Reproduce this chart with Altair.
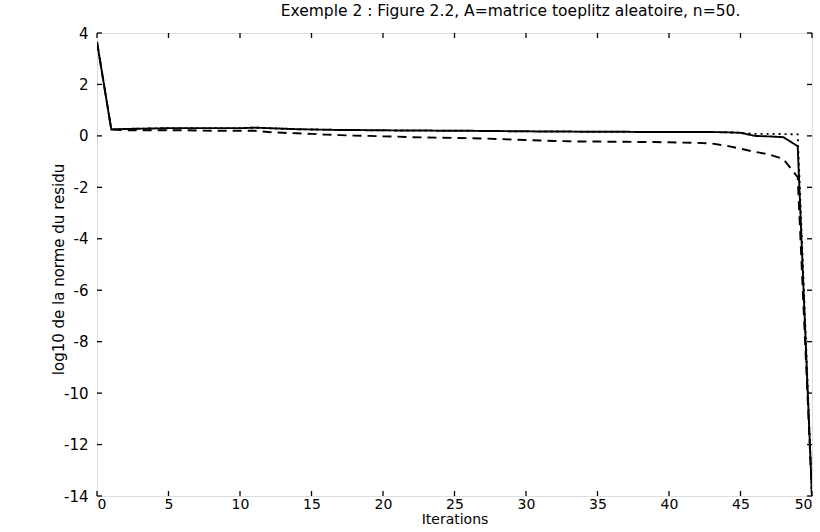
import altair as alt
import pandas as pd

iterations = list(range(51))

solid = [3.65, 0.25, 0.27, 0.28, 0.29, 0.30, 0.30, 0.30, 0.30, 0.30,
         0.30, 0.32, 0.30, 0.28, 0.26, 0.25, 0.24, 0.23, 0.23, 0.22,
         0.22, 0.21, 0.21, 0.21, 0.20, 0.20, 0.20, 0.19, 0.19, 0.18,
         0.18, 0.17, 0.17, 0.17, 0.16, 0.16, 0.16, 0.16, 0.15, 0.15,
         0.15, 0.15, 0.15, 0.15, 0.14, 0.12, 0.00, -0.02, -0.05, -0.40,
         -14.0]

dashed = [3.65, 0.25, 0.22, 0.22, 0.22, 0.22, 0.22, 0.21, 0.20, 0.20,
          0.20, 0.20, 0.15, 0.12, 0.10, 0.08, 0.05, 0.03, 0.01, 0.00,
          -0.02, -0.03, -0.05, -0.06, -0.07, -0.08, -0.09, -0.10, -0.12, -0.14,
          -0.16, -0.18, -0.20, -0.21, -0.22, -0.22, -0.23, -0.23, -0.24, -0.24,
          -0.25, -0.26, -0.27, -0.30, -0.38, -0.50, -0.62, -0.72, -0.90, -1.60,
          -14.0]

dotted = solid[:46] + [0.08, 0.08, 0.07, 0.06, -14.0]

x_ticks = list(range(0, 51, 5))
y_ticks = list(range(-14, 5, 2))

title_text = "Exemple 2 : Figure 2.2, A=matrice toeplitz aleatoire, n=50."
x_title = "Iterations"
y_title = "log10 de la norme du residu"

rows = []
for name, vals in (("solid", solid), ("dashed", dashed), ("dotted", dotted)):
    for i, v in zip(iterations, vals):
        rows.append({"it": i, "val": v, "series": name})
df = pd.DataFrame(rows)

W, H = 715, 463
FONT = "DejaVu Sans"

xscale = alt.Scale(domain=[0, 50], nice=False, zero=False)
yscale = alt.Scale(domain=[-14, 4], nice=False, zero=False)

lines = alt.Chart(df).mark_line(color="black", strokeWidth=1.9, clip=True).encode(
    x=alt.X("it:Q", scale=xscale, axis=alt.Axis(
        values=x_ticks, title=x_title, grid=False, ticks=False, domain=False,
        labelFontSize=14, labelColor="black", labelFont=FONT, labelPadding=1,
        titleFont=FONT, titleFontSize=14, titleFontWeight="normal",
        titleColor="black", titlePadding=1)),
    y=alt.Y("val:Q", scale=yscale, axis=alt.Axis(
        values=y_ticks, title=y_title, grid=False, ticks=False, domain=False,
        labelExpr="toString(datum.value)",
        labelFontSize=15, labelColor="black", labelFont=FONT, labelPadding=9,
        titleFont=FONT, titleFontSize=15, titleFontWeight="normal",
        titleColor="black", titleX=-31, titleY=236)),
    strokeDash=alt.StrokeDash("series:N", scale=alt.Scale(
        domain=["solid", "dashed", "dotted"],
        range=[[1, 0], [9, 6], [2, 4]]), legend=None),
    detail="series:N",
)

xt = pd.DataFrame({"t": x_ticks})
yt = pd.DataFrame({"t": y_ticks})

tick_len = 5
xb = alt.Chart(xt).mark_rule(color="black", strokeWidth=1.3).encode(
    x=alt.X("t:Q", scale=xscale), y=alt.value(H), y2=alt.value(H - tick_len))
xtp = alt.Chart(xt).mark_rule(color="black", strokeWidth=1.3).encode(
    x=alt.X("t:Q", scale=xscale), y=alt.value(0), y2=alt.value(tick_len))
yl = alt.Chart(yt).mark_rule(color="black", strokeWidth=1.3).encode(
    y=alt.Y("t:Q", scale=yscale), x=alt.value(0), x2=alt.value(tick_len))
yr = alt.Chart(yt).mark_rule(color="black", strokeWidth=1.3).encode(
    y=alt.Y("t:Q", scale=yscale), x=alt.value(W), x2=alt.value(W - tick_len))

chart = alt.layer(lines, xb, xtp, yl, yr).properties(
    width=W, height=H,
    title=alt.TitleParams(title_text, font=FONT, fontSize=15.5, fontWeight="normal",
                          color="black", anchor="middle", offset=7, dx=56),
    padding={"left": 97, "top": 33, "right": 8, "bottom": 36},
    autosize=alt.AutoSizeParams(type="none"),
).configure_view(stroke="black", strokeWidth=1.6).configure(background="white")

chart.save("out.html", embed_options={"renderer": "svg", "actions": False})
